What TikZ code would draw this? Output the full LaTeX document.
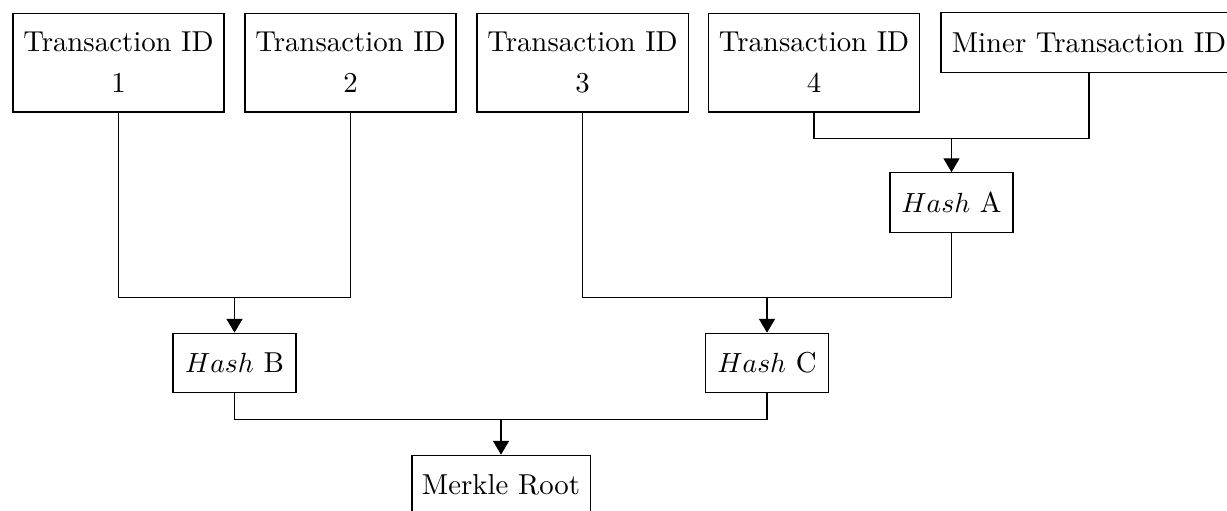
\documentclass[tikz,border=0pt]{standalone}
\usetikzlibrary{arrows.meta}
\begin{document}
\begin{tikzpicture}[x=0.361pt,y=-0.361pt,
  box/.style={draw, inner xsep=3.4pt, inner ysep=0pt, align=center, font=\fontsize{10.4}{12.5}\selectfont},
  one/.style={box, minimum height=21.5pt},
  two/.style={box, minimum height=35.7pt, minimum width=76.2pt},
  hashbox/.style={one, minimum width=44.4pt},
  arr/.style={-{Triangle[width=5.8pt,length=5pt]}}]
\useasboundingbox (0,0) rectangle (1227,510);
\clip (0,0) rectangle (1227,510);
\node[two] (t1) at (118.5,62.5) {Transaction ID\\[2.2pt]1};
\node[two] (t2) at (350.5,62.5) {Transaction ID\\[2.2pt]2};
\node[two] (t3) at (582.5,62.5) {Transaction ID\\[2.2pt]3};
\node[two] (t4) at (814,62.5) {Transaction ID\\[2.2pt]4};
\node[one, minimum width=106.9pt] (mi) at (1089,42.5) {Miner Transaction ID};
\node[hashbox] (hA) at (951.5,202.5) {$Hash$ A};
\node[hashbox] (hB) at (234.5,363) {$Hash$ B};
\node[hashbox] (hC) at (767,363) {$Hash$ C};
\node[one, minimum width=64.3pt] (mr) at (501,485) {Merkle Root};
\path (hA.north) ++(0,-34) coordinate (jA);
\path (hB.north) ++(0,-35) coordinate (jB);
\path (hC.north) ++(0,-35) coordinate (jC);
\path (mr.north) ++(0,-35) coordinate (jM);
\draw (t4.south) |- (jA) -| (mi.south);
\draw[arr] (jA) -- (hA.north);
\draw (t1.south) |- (jB) -| (t2.south);
\draw[arr] (jB) -- (hB.north);
\draw (t3.south) |- (jC) -| (hA.south);
\draw[arr] (jC) -- (hC.north);
\draw (hB.south) |- (jM) -| (hC.south);
\draw[arr] (jM) -- (mr.north);
\end{tikzpicture}
\end{document}
